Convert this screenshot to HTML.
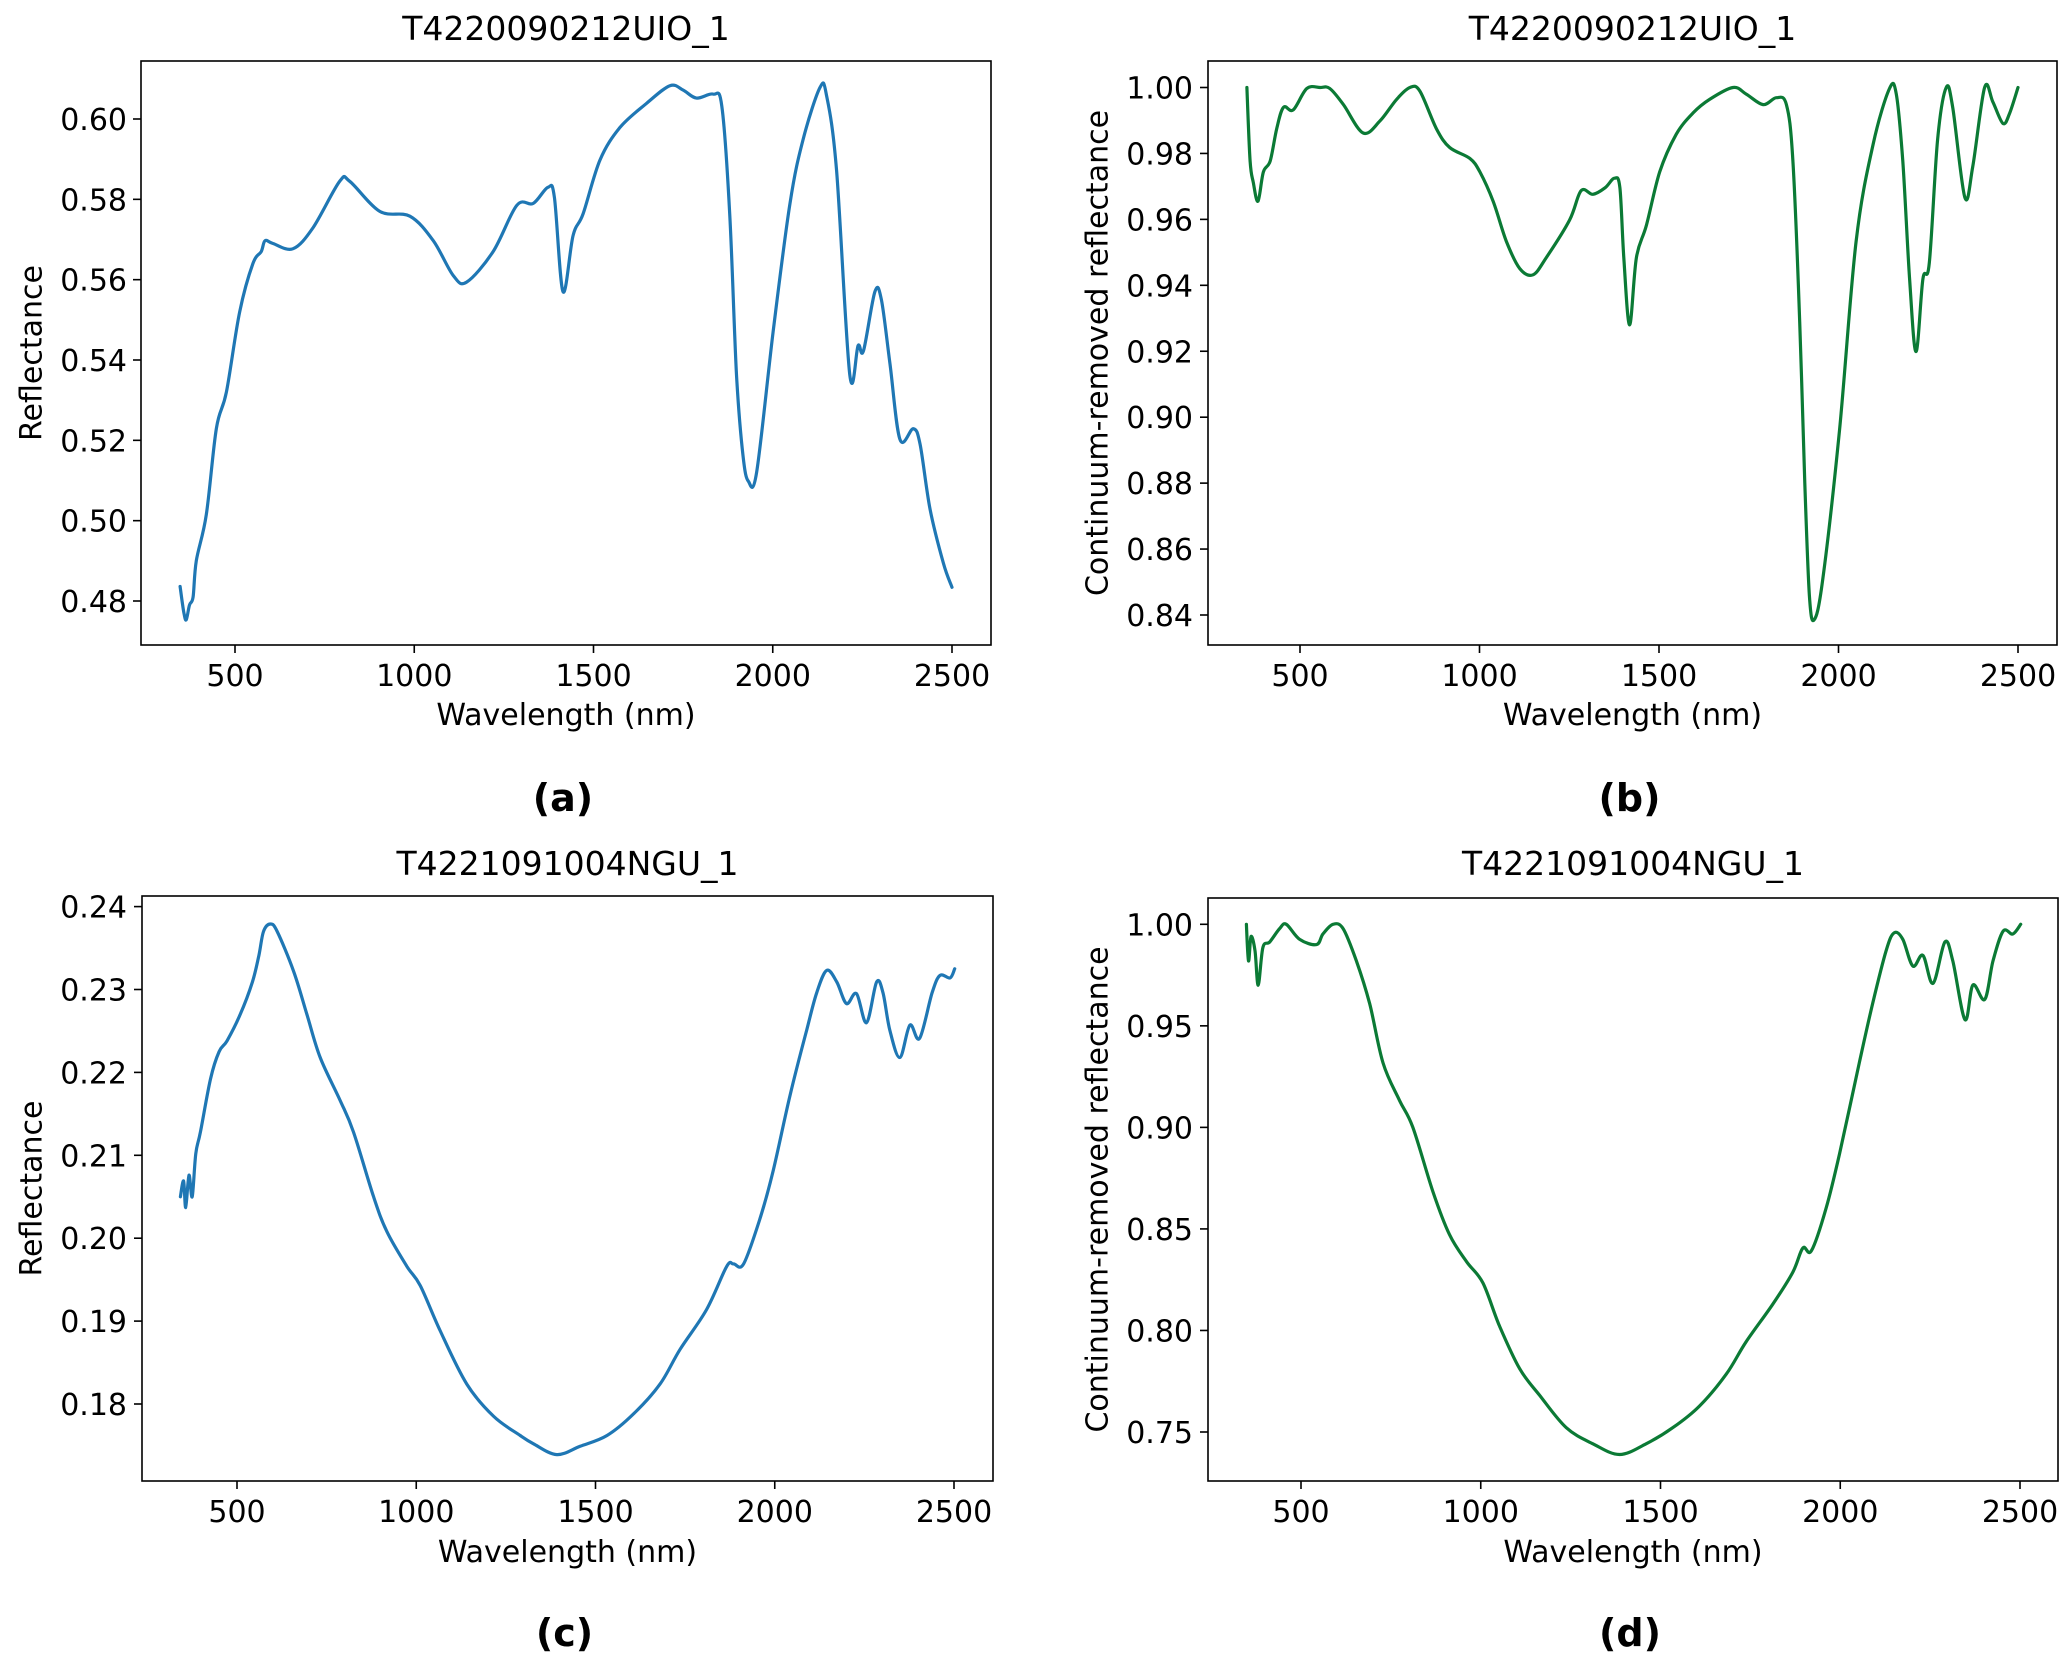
<!DOCTYPE html>
<html><head><meta charset="utf-8"><style>
html,body{margin:0;padding:0;background:#fff;}
svg{display:block;font-family:"DejaVu Sans","Liberation Sans",sans-serif;}
</style></head><body>
<svg id="fig" width="2067" height="1665" viewBox="0 0 2067 1665" xmlns="http://www.w3.org/2000/svg"></svg>
<script>
// ---- data: panel (a) reflectance T4220090212UIO_1
const aWl=[347,357,364,373,383,392,420,448,476,513,550,573,584,606,662,718,792,820,904,988,1053,1109,1146,1220,1286,1332,1373,1391,1415,1443,1471,1518,1574,1648,1713,1750,1787,1834,1858,1880,1899,1917,1932,1955,2001,2048,2085,2132,2150,2178,2215,2238,2253,2285,2303,2327,2355,2392,2411,2439,2476,2500];
const aVal=[.4836,.4773,.4753,.479,.481,.490,.5015,.523,.532,.552,.564,.567,.5697,.569,.5677,.573,.5845,.5845,.577,.5758,.5697,.561,.5594,.567,.5785,.579,.583,.5805,.557,.571,.5764,.5898,.5979,.6039,.6083,.6072,.6052,.6062,.6032,.5764,.5363,.5162,.5098,.512,.547,.579,.595,.6079,.6059,.5871,.5363,.5436,.5423,.557,.555,.539,.5202,.5229,.519,.5028,.4894,.4834];
// ---- panel (b) continuum removed T4220090212UIO_1
const bWl=[352,361,370,383,398,417,435,454,481,519,556,583,621,676,723,769,806,834,880,917,973,1001,1038,1075,1112,1149,1186,1251,1283,1316,1350,1376,1391,1402,1418,1437,1465,1502,1548,1595,1641,1706,1743,1790,1827,1855,1873,1892,1906,1919,1932,1956,2003,2049,2096,2142,2161,2179,2198,2216,2235,2253,2276,2300,2318,2352,2374,2407,2430,2458,2476,2500];
const bVal=[1.0,.9777,.9712,.9655,.9744,.9777,.9875,.994,.9932,.9997,1.0,.9997,.9948,.9862,.9899,.9964,1.0,.9989,.9875,.9818,.9785,.9744,.9655,.9533,.9451,.9432,.9484,.9598,.9687,.9676,.9696,.9725,.9696,.9484,.928,.9484,.9582,.9744,.9858,.9923,.9964,1.0,.998,.9948,.9969,.9948,.9777,.9289,.88,.8458,.8385,.8507,.8963,.9533,.9826,.9997,.998,.9777,.9419,.9199,.9419,.9468,.9842,1.0,.994,.9666,.9761,1.0,.9956,.9891,.992,1.0];
// ---- panel (c) reflectance T4221091004NGU_1
const cWl=[342,351,357,366,375,385,398,426,450,472,509,543,561,574,593,612,658,695,732,788,825,881,918,974,1011,1067,1141,1216,1290,1327,1392,1457,1532,1606,1680,1736,1810,1866,1885,1913,1959,1996,2043,2089,2117,2145,2173,2200,2228,2256,2284,2302,2321,2349,2377,2404,2439,2461,2489,2502];
const cVal=[.205,.2069,.2037,.2076,.205,.2102,.2128,.2192,.2225,.2238,.227,.2309,.2341,.237,.2379,.237,.2322,.227,.2218,.2166,.2128,.205,.2008,.1966,.1943,.1888,.1824,.1785,.1762,.1752,.1739,.1749,.1762,.1788,.1824,.1866,.1914,.1966,.1969,.1969,.2024,.2082,.2173,.2251,.2296,.2323,.2309,.2283,.2295,.226,.2309,.2296,.2251,.2218,.2257,.2241,.2296,.2317,.2314,.2325];
// ---- panel (d) continuum removed T4221091004NGU_1
const dWl=[348,354,361,372,381,394,413,441,459,496,543,561,589,617,654,691,728,774,811,867,913,960,1006,1052,1108,1164,1238,1312,1386,1460,1534,1608,1683,1738,1812,1868,1896,1920,1961,1998,2053,2090,2128,2150,2174,2202,2230,2258,2291,2313,2347,2369,2402,2425,2453,2480,2502];
const dVal=[1.0,.982,.994,.987,.970,.9886,.9913,.998,1.0,.9926,.99,.9952,1.0,.9979,.982,.9609,.9318,.9133,.9001,.8684,.8472,.834,.8234,.8023,.7812,.768,.7521,.7442,.7389,.7442,.7521,.7627,.7785,.7944,.8129,.8287,.8406,.8393,.8604,.8869,.9318,.9609,.9873,.9958,.9926,.9794,.9847,.9709,.9913,.982,.953,.9701,.963,.982,.9966,.9952,1.0];
// ---- tick labels
const xTicks=[500,1000,1500,2000,2500];
const aTicks=[0.48,0.50,0.52,0.54,0.56,0.58,0.60];
const bTicks=[0.84,0.86,0.88,0.90,0.92,0.94,0.96,0.98,1.00];
const cTicks=[0.18,0.19,0.20,0.21,0.22,0.23,0.24];
const dTicks=[0.75,0.80,0.85,0.90,0.95,1.00];

const NS='http://www.w3.org/2000/svg';
const svg=document.getElementById('fig');
function mk(tag,attrs,parent){const e=document.createElementNS(NS,tag);for(const k in attrs)e.setAttribute(k,attrs[k]);(parent||svg).appendChild(e);return e;}
function smoothPath(P){
 let d='M'+P[0][0].toFixed(1)+','+P[0][1].toFixed(1);
 for(let i=0;i<P.length-1;i++){
  const p0=P[Math.max(0,i-1)],p1=P[i],p2=P[i+1],p3=P[Math.min(P.length-1,i+2)];
  const c1x=p1[0]+(p2[0]-p0[0])/6,c1y=p1[1]+(p2[1]-p0[1])/6;
  const c2x=p2[0]-(p3[0]-p1[0])/6,c2y=p2[1]-(p3[1]-p1[1])/6;
  d+=' C'+c1x.toFixed(1)+','+c1y.toFixed(1)+' '+c2x.toFixed(1)+','+c2y.toFixed(1)+' '+p2[0].toFixed(1)+','+p2[1].toFixed(1);
 }
 return d;
}

const panels=[
 {id:'a',wl:aWl,val:aVal,ticks:aTicks,dec:2,color:'#1f77b4',title:'T4220090212UIO_1',ylab:'Reflectance',
  box:[141,61,991,645],x0:[500,235],x1:[2500,952],y0:[0.60,119],y1:[0.48,601],tickRight:127,ylabX:32,titleY:40,xtY:686,xlY:725,capY:821},
 {id:'b',wl:bWl,val:bVal,ticks:bTicks,dec:2,color:'#0b7a35',title:'T4220090212UIO_1',ylab:'Continuum-removed reflectance',
  box:[1208,61,2057,645],x0:[500,1300],x1:[2500,2018],y0:[1.00,87.5],y1:[0.84,615],tickRight:1193,ylabX:1098,titleY:40,xtY:686,xlY:725,capY:821},
 {id:'c',wl:cWl,val:cVal,ticks:cTicks,dec:2,color:'#1f77b4',title:'T4221091004NGU_1',ylab:'Reflectance',
  box:[142,896,993,1481],x0:[500,237],x1:[2500,954],y0:[0.24,906.6],y1:[0.18,1404],tickRight:127,ylabX:32,titleY:875,xtY:1522,xlY:1562,capY:1656},
 {id:'d',wl:dWl,val:dVal,ticks:dTicks,dec:2,color:'#0b7a35',title:'T4221091004NGU_1',ylab:'Continuum-removed reflectance',
  box:[1208,898,2058,1481],x0:[500,1301],x1:[2500,2020],y0:[1.00,924.3],y1:[0.75,1432],tickRight:1193,ylabX:1098,titleY:875,xtY:1522,xlY:1562,capY:1656}
];

panels.forEach(p=>{
 const g=mk('g',{});
 
 
 const sx=v=>p.x0[1]+(v-p.x0[0])*(p.x1[1]-p.x0[1])/(p.x1[0]-p.x0[0]);
 const sy=v=>p.y0[1]+(v-p.y0[0])*(p.y1[1]-p.y0[1])/(p.y1[0]-p.y0[0]);
 const [L,T,R,B]=p.box;
 const cx=(L+R)/2;
 const P=p.wl.map((w,i)=>[sx(w),sy(p.val[i])]);
 const line=mk('path',{d:smoothPath(P),fill:'none',stroke:p.color,'stroke-width':3.2,'stroke-linejoin':'round','stroke-linecap':'round'},g);
 
 
 const fr=mk('rect',{x:L,y:T,width:R-L,height:B-T,fill:'none',stroke:'#000','stroke-width':1.6},g);
 
 
 xTicks.forEach(t=>{
  const x=sx(t);
  mk('line',{x1:x,x2:x,y1:B,y2:B+8,stroke:'#000','stroke-width':1.6},g);
  const tx=mk('text',{x:x,y:p.xtY,'font-size':30,'text-anchor':'middle',fill:'#000'},g);
  tx.textContent=String(t);
  
  
 });
 p.ticks.forEach(t=>{
  const y=sy(t);
  mk('line',{x1:L-8,x2:L,y1:y,y2:y,stroke:'#000','stroke-width':1.6},g);
  const ty=mk('text',{x:p.tickRight,y:y+11,'font-size':30,'text-anchor':'end',fill:'#000'},g);
  ty.textContent=t.toFixed(p.dec);
  
  
 });
 const ti=mk('text',{x:cx,y:p.titleY,'font-size':33,'text-anchor':'middle',fill:'#000'},g);
 ti.textContent=p.title;
 
 
 const xl=mk('text',{x:cx,y:p.xlY,'font-size':30,'text-anchor':'middle',fill:'#000'},g);
 xl.textContent='Wavelength (nm)';
 
 
 const yc=(T+B)/2;
 const yl=mk('text',{x:p.ylabX,y:yc,'font-size':30,'text-anchor':'middle','dominant-baseline':'central',fill:'#000',transform:'rotate(-90 '+p.ylabX+' '+yc+')'},g);
 yl.textContent=p.ylab;
 
 
 const cap=mk('text',{x:cx-3,y:p.capY-10,'font-size':38,'font-weight':'bold','text-anchor':'middle',fill:'#000'},g);
 cap.textContent='('+p.id+')';
 
 
});
</script>
</body></html>
